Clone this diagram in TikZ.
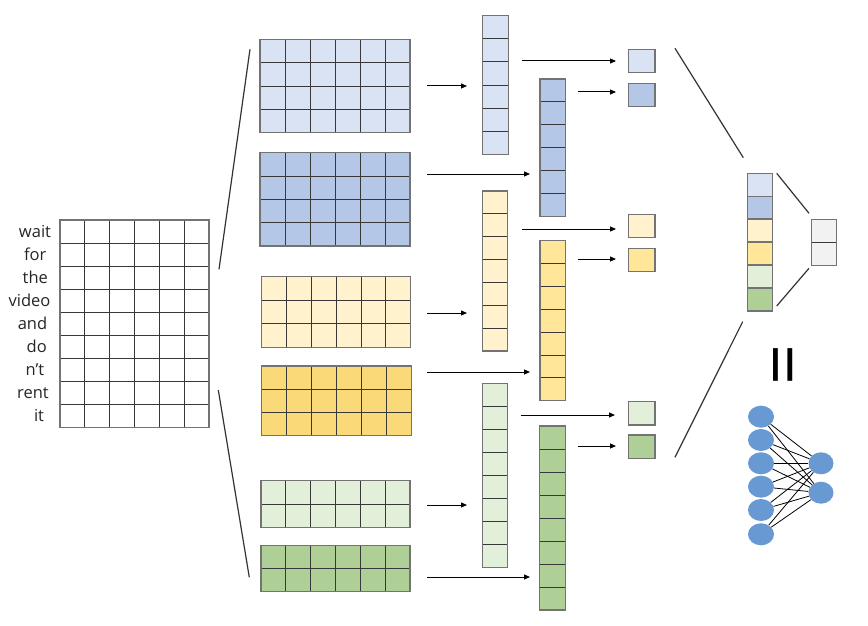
\documentclass[tikz,border=0pt]{standalone}
\usepackage{fontspec}
\setmainfont{Open Sans}
\usetikzlibrary{arrows.meta,fit,shapes.geometric}
\definecolor{lb}{HTML}{DAE3F3}
\definecolor{db}{HTML}{B4C7E7}
\definecolor{ly}{HTML}{FFF2CC}
\definecolor{dy}{HTML}{FFE699}
\definecolor{dym}{HTML}{F9D978}
\definecolor{lg}{HTML}{E2F0D9}
\definecolor{dg}{HTML}{AED097}
\definecolor{gy}{HTML}{F2F2F2}
\definecolor{nb}{HTML}{6899D3}
\tikzset{
  gridin/.style={draw=black!78, line width=0.9pt},
  gridout/.style={draw=black!55, line width=1.5pt, inner sep=0pt},
  arr/.style={draw=black, line width=1pt, -{Triangle[length=6pt,width=5pt]}},
  link/.style={draw=black!80, line width=1.2pt},
  word/.style={font=\fontsize{16.5}{18}\selectfont, inner sep=0pt, anchor=base, text=black!85},
  neuron/.style={ellipse, fill=nb, draw=none, inner sep=0pt, minimum width=26pt, minimum height=22pt},
  nnedge/.style={draw=black, line width=0.8pt}
}
\newcommand\cellgrid[8]{%
  \fill[#8] (#2,#3) rectangle (#4,#5);
  \pgfmathsetmacro\cgw{(#4-#2)/#6}
  \pgfmathsetmacro\cgh{(#5-#3)/#7}
  \ifnum#6>1
    \pgfmathtruncatemacro\cgn{#6-1}
    \foreach \i in {1,...,\cgn} \draw[gridin] ({#2+\i*\cgw},#3) -- ({#2+\i*\cgw},#5);
  \fi
  \ifnum#7>1
    \pgfmathtruncatemacro\cgm{#7-1}
    \foreach \j in {1,...,\cgm} \draw[gridin] (#2,{#3+\j*\cgh}) -- (#4,{#3+\j*\cgh});
  \fi
  \node[gridout, fit={(#2,#3) (#4,#5)}] (#1) {};
}
\begin{document}
\begin{tikzpicture}[x=1pt,y=-1pt]
\useasboundingbox (0,0) rectangle (868,626);
\fill[white] (0,0) rectangle (868,626);

% input matrix
\cellgrid{M}{60}{220}{209}{427.7}{6}{9}{white}
\foreach \w/\cx [count=\k] in {wait/35, for/35.3, the/35.3, video/29.5, and/32.5, do/36.7, n't/35, rent/33, it/39}
  \node[word] (w\k) at (\cx, {220+(\k-0.5)*23.08+5.8}) {\w};

% filters
\cellgrid{F1}{260}{39.3}{410}{132.7}{6}{4}{lb}
\cellgrid{F2}{260}{152.7}{410}{246}{6}{4}{db}
\cellgrid{F3}{261.5}{276.7}{410.7}{347.3}{6}{3}{ly}
\cellgrid{F4}{261.5}{366}{411.5}{435.7}{6}{3}{dym}
\cellgrid{F5}{261}{480.7}{410}{527.3}{6}{2}{lg}
\cellgrid{F6}{261}{545.7}{410}{591.7}{6}{2}{dg}

% feature maps
\cellgrid{V1}{482.3}{15.7}{508.3}{154.3}{1}{6}{lb}
\cellgrid{V2}{540}{79}{565.7}{216.7}{1}{6}{db}
\cellgrid{V3}{482.3}{191}{507.7}{351}{1}{7}{ly}
\cellgrid{V4}{540}{240.7}{565.7}{400.7}{1}{7}{dy}
\cellgrid{V5}{482.3}{383.3}{507.7}{567.3}{1}{8}{lg}
\cellgrid{V6}{539.5}{426}{565.3}{610}{1}{8}{dg}

% pooled values
\cellgrid{P1}{628.3}{49.3}{655}{72.7}{1}{1}{lb}
\cellgrid{P2}{628.3}{83.3}{655}{106.7}{1}{1}{db}
\cellgrid{P3}{628.3}{214.3}{655}{237.7}{1}{1}{ly}
\cellgrid{P4}{628.3}{248.3}{655}{271.7}{1}{1}{dy}
\cellgrid{P5}{628.3}{401.7}{655}{425}{1}{1}{lg}
\cellgrid{P6}{628.3}{435}{655}{458.3}{1}{1}{dg}

% concatenated vector
\cellgrid{C1}{747.3}{173.3}{772.7}{196.25}{1}{1}{lb}
\cellgrid{C2}{747.3}{196.25}{772.7}{219.2}{1}{1}{db}
\cellgrid{C3}{747.3}{219.2}{772.7}{242.15}{1}{1}{ly}
\cellgrid{C4}{747.3}{242.15}{772.7}{265.1}{1}{1}{dy}
\cellgrid{C5}{747.3}{265.1}{772.7}{288.05}{1}{1}{lg}
\cellgrid{C6}{747.3}{288.05}{772.7}{311}{1}{1}{dg}

% output
\cellgrid{G}{811.7}{219.3}{836.7}{265.7}{1}{2}{gy}

% arrows
\foreach \n/\xa/\xb/\yy in {1/427/467/86, 2/427/530/174, 3/427/467/313, 4/427/530/372, 5/427/467/505, 6/427/530/577,
  7/522/616/61, 8/578/616/92, 9/522/616/229, 10/578/616/259, 11/521/615/415, 12/578/616/446}{
  \coordinate (a\n s) at (\xa,\yy);
  \coordinate (a\n e) at (\xb,\yy);
  \draw[arr] (a\n s) -- (a\n e);
}

% fan lines
\coordinate (l1a) at (219,269.3); \coordinate (l1b) at (250,49.3);
\coordinate (l2a) at (218.3,390); \coordinate (l2b) at (249.3,577.3);
\coordinate (l3a) at (675,48.3); \coordinate (l3b) at (743.3,157.7);
\coordinate (l4a) at (742.7,321.7); \coordinate (l4b) at (675,457.3);
\coordinate (l5a) at (776.7,173.3); \coordinate (l5b) at (809,213.3);
\coordinate (l6a) at (776.7,306); \coordinate (l6b) at (809,268.3);
\foreach \n in {1,...,6} \draw[link] (l\n a) -- (l\n b);

% equals sign
\node[rotate=90, inner sep=0pt, font=\fontsize{72}{72}\selectfont, text=black] (eq) at (791.5,365) {=};

% network
\foreach \yy [count=\k] in {416.7, 440, 463.3, 486.7, 510, 534.3}
  \node[neuron] (n\k) at (761,\yy) {};
\node[neuron, minimum width=25pt] (o1) at (821,463.3) {};
\node[neuron, minimum width=25pt] (o2) at (821,492.7) {};
\foreach \k in {1,...,6} {
  \draw[nnedge] (n\k) -- (o1);
  \draw[nnedge] (n\k) -- (o2);
}
\end{tikzpicture}
\end{document}
